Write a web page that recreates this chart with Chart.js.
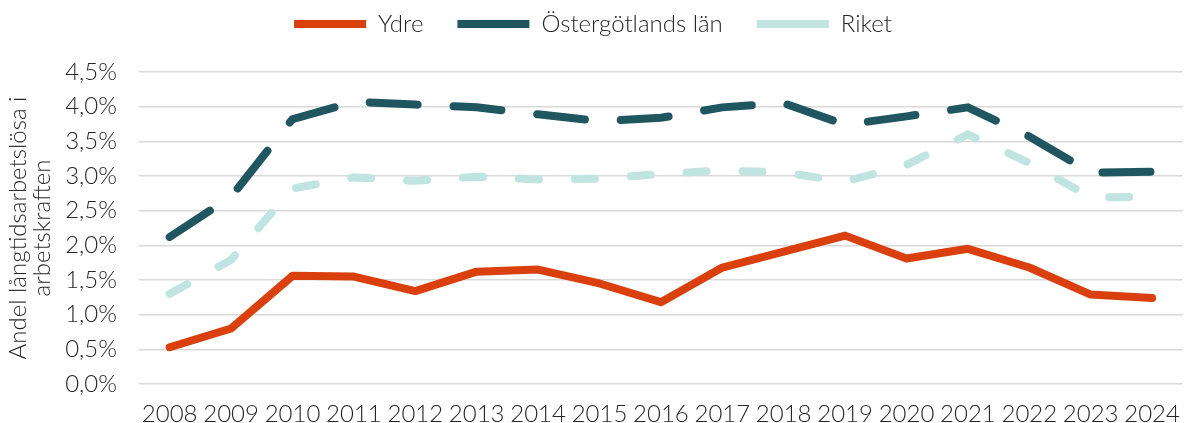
<!DOCTYPE html>
<html>
<head>
<meta charset="utf-8">
<script src="https://cdn.jsdelivr.net/npm/chart.js@4"></script>
<style>
  html, body { margin: 0; padding: 0; background: #fff; }
</style>
</head>
<body>
<canvas id="chart" width="1188" height="423"></canvas>
<script>
const years = ['2008','2009','2010','2011','2012','2013','2014','2015','2016','2017','2018','2019','2020','2021','2022','2023','2024']
const ydre = [0.53, 0.80, 1.56, 1.55, 1.34, 1.62, 1.65, 1.45, 1.18, 1.68, 1.91, 2.14, 1.81, 1.95, 1.68, 1.29, 1.24]
const ostergotland = [2.12, 2.70, 3.82, 4.07, 4.03, 3.99, 3.89, 3.79, 3.84, 3.99, 4.05, 3.74, 3.86, 3.99, 3.57, 3.05, 3.06]
const riket = [1.30, 1.79, 2.82, 2.98, 2.93, 2.99, 2.95, 2.96, 3.03, 3.08, 3.05, 2.92, 3.16, 3.60, 3.19, 2.69, 2.70]

const font = { family: 'Lato', weight: 300, size: 24 }

// push the plot area down below the legend
const legendGap = {
  id: 'legendGap',
  beforeInit(chart) {
    const fit = chart.legend.fit
    chart.legend.fit = function () {
      fit.bind(chart.legend)()
      this.height += 26
    }
  }
}

const ctx = document.getElementById('chart')
const myChart = new Chart(ctx, {
  type: 'line',
  data: {
    labels: years,
    datasets: [{
      label: 'Ydre',
      data: ydre,
      borderColor: '#D9400E',
      backgroundColor: '#D9400E',
      borderWidth: 8,
      borderCapStyle: 'round',
      borderJoinStyle: 'round',
      pointRadius: 0
    }, {
      label: 'Östergötlands län',
      data: ostergotland,
      borderColor: '#1F5660',
      backgroundColor: '#1F5660',
      borderWidth: 8,
      borderDash: [48, 36],
      borderCapStyle: 'round',
      pointRadius: 0
    }, {
      label: 'Riket',
      data: riket,
      borderColor: '#C0E4DF',
      backgroundColor: '#C0E4DF',
      borderWidth: 8,
      borderDash: [20, 36],
      borderCapStyle: 'round',
      pointRadius: 0
    }]
  },
  plugins: [legendGap],
  options: {
    responsive: false,
    animation: false,
    layout: { padding: { left: 0, right: 2, top: -22, bottom: 0 } },
    plugins: {
      tooltip: { enabled: false },
      legend: {
        position: 'top',
        labels: {
          usePointStyle: true,
          pointStyle: 'line',
          pointStyleWidth: 72,
          boxHeight: 24,
          color: '#262626',
          font: font,
          padding: 34
        }
      }
    },
    scales: {
      x: {
        offset: true,
        afterFit: (s) => { s.height = 39 },
        grid: { display: false },
        border: { display: false },
        ticks: { color: '#262626', font: font, padding: 8, maxRotation: 0, autoSkip: false }
      },
      y: {
        min: 0,
        max: 4.5,
        afterFit: (s) => { s.width = 139 },
        grid: { color: '#d9d9d9', lineWidth: 1.5, drawTicks: false },
        border: { display: false },
        ticks: {
          stepSize: 0.5,
          color: '#262626',
          font: font,
          padding: 22,
          callback: (v) => v.toFixed(1).replace('.', ',') + '%'
        },
        title: {
          display: true,
          text: ['Andel långtidsarbetslösa i', 'arbetskraften'],
          color: '#262626',
          font: { family: 'Lato', weight: 300, size: 24, lineHeight: 1.0 },
          padding: { top: 6, bottom: 0 }
        }
      }
    }
  }
})
</script>
</body>
</html>
